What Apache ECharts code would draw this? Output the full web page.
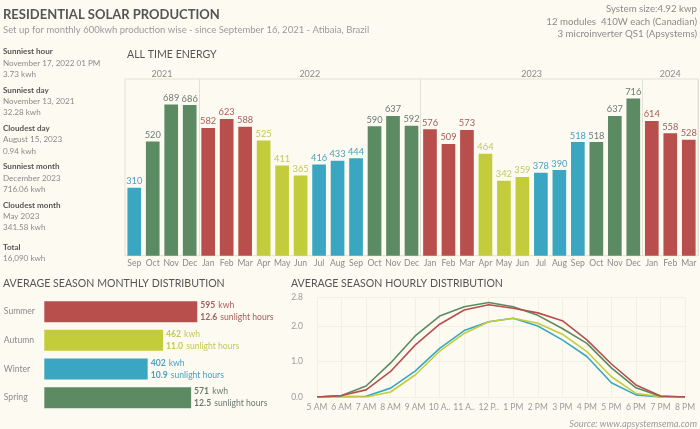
<!DOCTYPE html>
<html><head><meta charset="utf-8">
<script src="https://cdn.jsdelivr.net/npm/echarts@6/dist/echarts.min.js"></script>
<style>html,body{margin:0;padding:0;background:#fdfbf1}#c{width:700px;height:429px}</style>
</head><body><div id="c"></div>
<script>
// ---- DATA ----
const monthLabels = ['Sep','Oct','Nov','Dec',
  'Jan','Feb','Mar','Apr','May','Jun','Jul','Aug','Sep','Oct','Nov','Dec',
  'Jan','Feb','Mar','Apr','May','Jun','Jul','Aug','Sep','Oct','Nov','Dec',
  'Jan','Feb','Mar'];
const monthlyKwh = [310,520,689,686,
  582,623,588,525,411,365,416,433,444,590,637,592,
  576,509,573,464,342,359,378,390,518,518,637,716,
  614,558,528];
const yearNames = ['2021','2022','2023','2024'];
const monthsPerYear = [4,12,12,3];

const seasonNames = ['Summer','Autumn','Winter','Spring'];
const seasonKwh = [595,462,402,571];
const seasonSunHours = ['12.6','11.0','10.9','12.5'];
const seasonOfMonth = {Jan:'Summer',Feb:'Summer',Mar:'Summer',Apr:'Autumn',May:'Autumn',Jun:'Autumn',
  Jul:'Winter',Aug:'Winter',Sep:'Winter',Oct:'Spring',Nov:'Spring',Dec:'Spring'};

const hourLabels = ['5 AM','6 AM','7 AM','8 AM','9 AM','10 A..','11 A..','12 P..','1 PM','2 PM','3 PM','4 PM','5 PM','6 PM','7 PM','8 PM'];
const hourlySummer = [0,0.04,0.2,0.72,1.46,2.05,2.45,2.6,2.5,2.37,2.15,1.61,0.93,0.34,0.03,0];
const hourlyAutumn = [0,0.01,0,0.14,0.62,1.29,1.79,2.12,2.22,2.08,1.77,1.28,0.57,0.1,0.01,0];
const hourlyWinter = [0,0.01,0.02,0.25,0.73,1.37,1.87,2.12,2.22,2.0,1.61,1.14,0.4,0.06,0,0];
const hourlySpring = [0,0.04,0.31,0.96,1.72,2.28,2.54,2.66,2.54,2.3,1.93,1.51,0.82,0.26,0.02,0];

const stats = [
  ['Sunniest hour','November 17, 2022 01 PM','3.73 kwh'],
  ['Sunniest day','November 13, 2021','32.28 kwh'],
  ['Cloudest day','August 15, 2023','0.94 kwh'],
  ['Sunniest month','December 2023','716.06 kwh'],
  ['Cloudest month','May 2023','341.58 kwh'],
  ['Total','16,090 kwh']
];

// ---- STYLE ----
const FONT = 'Lato, "Open Sans", sans-serif';
const seasonColor = {Summer:'#b84f4c', Autumn:'#c3cc3a', Winter:'#3aa6c1', Spring:'#5b8a63'};
const seasonLabelColor = {Summer:'#a65c5a', Autumn:'#c2c85c', Winter:'#4aa0c0', Spring:'#6c7a6e'};

// year label positions from the group sizes
const yearCenters = [];
const yearStarts = [];
let acc = 0;
monthsPerYear.forEach(n => { yearStarts.push(acc); yearCenters.push(acc + (n - 1) / 2); acc += n; });

const barData = monthlyKwh.map((v, i) => {
  const s = seasonOfMonth[monthLabels[i]];
  return {value: v, itemStyle: {color: seasonColor[s]}, label: {color: seasonLabelColor[s]}};
});
const seasonData = seasonKwh.map((v, i) => {
  const s = seasonNames[i];
  return {value: v, hours: seasonSunHours[i], itemStyle: {color: seasonColor[s]},
    label: {rich: {b: {color: seasonLabelColor[s], fontWeight: 'bold', fontSize: 8.6, fontFamily: FONT, lineHeight: 11.7},
                   n: {color: seasonLabelColor[s], fontSize: 8.6, fontFamily: FONT, lineHeight: 11.7}}}};
});

// graphics: texts
const graphics = [];
function txt(text, x, y, size, color, opts) {
  graphics.push({type: 'text', style: Object.assign({text, x, y, font: size + 'px ' + FONT, fill: color,
    textAlign: 'left', textVerticalAlign: 'middle'}, opts || {})});
}
txt('RESIDENTIAL SOLAR PRODUCTION', 3, 15, 13, '#555555', {font: 'bold 13px ' + FONT});
txt('Set up for monthly 600kwh production wise - since September 16, 2021 - Atibaia, Brazil', 3, 30, 9.5, '#9a9a9a');
txt('System size:4.92 kwp', 697, 9, 9.7, '#8a8a8a', {textAlign: 'right'});
txt('12 modules  410W each (Canadian)', 697, 21.5, 9.7, '#8a8a8a', {textAlign: 'right'});
txt('3 microinverter QS1 (Apsystems)', 697, 34, 9.7, '#8a8a8a', {textAlign: 'right'});
txt('ALL TIME ENERGY', 127, 55, 10.6, '#555555');
txt('AVERAGE SEASON MONTHLY DISTRIBUTION', 3, 284, 10.6, '#555555');
txt('AVERAGE SEASON HOURLY DISTRIBUTION', 291, 284, 10.6, '#555555');
txt('Source: www.apsystemsema.com', 697, 424, 9.3, '#9a9a9a', {textAlign: 'right', font: 'italic 9.3px ' + FONT});
stats.forEach((g, gi) => {
  const y0 = gi < 5 ? 51.7 + gi * 38.3 : 247.3;
  g.forEach((t, li) => {
    txt(t, 3, y0 + li * 11.3, 8.1, li === 0 ? '#555555' : '#8a8a8a', li === 0 ? {font: 'bold 8.1px ' + FONT} : {});
  });
});

const option = {
  backgroundColor: '#fdfbf1',
  animation: false,
  textStyle: {fontFamily: FONT},
  grid: [
    {left: 125, right: 2, top: 79, bottom: 173.3, show: true, borderColor: '#e3e0d4', borderWidth: 1, containLabel: false},
    {left: 44.3, width: 205.7, top: 297.3, height: 114.7, containLabel: false},
    {left: 317, right: 15, top: 297.6, bottom: 32, containLabel: false}
  ],
  xAxis: [
    {type: 'category', gridIndex: 0, data: monthLabels, boundaryGap: true,
      axisLine: {show: false}, axisTick: {show: false},
      axisLabel: {color: '#8a8a8a', fontSize: 8.6, margin: 3, interval: 0},
      splitLine: {show: true, interval: (i) => yearStarts.indexOf(i) > 0, lineStyle: {color: '#e3e0d4', width: 1}}},
    {type: 'value', gridIndex: 0, position: 'top', min: -0.5, max: monthLabels.length - 0.5,
      axisLine: {show: false}, axisTick: {show: false}, splitLine: {show: false},
      axisLabel: {customValues: yearCenters, color: '#8a8a8a', fontSize: 9, margin: 0,
        formatter: (v) => { const k = yearCenters.indexOf(v); return k >= 0 ? yearNames[k] : ''; }}},
    {type: 'value', gridIndex: 1, min: 0, max: 800, show: false},
    {type: 'category', gridIndex: 2, data: hourLabels, boundaryGap: false,
      axisLine: {show: false}, axisTick: {show: false},
      axisLabel: {color: '#9a9a9a', fontSize: 8.5, margin: 6, interval: 0},
      splitLine: {show: true, lineStyle: {color: '#f2efe3', width: 1}}}
  ],
  yAxis: [
    {type: 'value', gridIndex: 0, min: 0, max: 805, show: false},
    {type: 'category', gridIndex: 1, data: seasonNames, inverse: true,
      axisLine: {show: false}, axisTick: {show: false},
      axisLabel: {color: '#8a8a8a', fontSize: 8.6, align: 'left', margin: 40.5}},
    {type: 'value', gridIndex: 2, min: 0, max: 2.8, interval: 1,
      axisLine: {show: false}, axisTick: {show: false},
      axisLabel: {color: '#9a9a9a', fontSize: 8.5, margin: 14, formatter: (v) => v.toFixed(1)},
      splitLine: {show: true, lineStyle: {color: '#f2efe3', width: 1}}}
  ],
  series: [
    {type: 'bar', xAxisIndex: 0, yAxisIndex: 0, data: barData, barWidth: '74%',
      label: {show: true, position: 'top', distance: 2, fontSize: 9.3, fontFamily: FONT}},
    {type: 'bar', xAxisIndex: 2, yAxisIndex: 1, data: seasonData, barWidth: 21,
      label: {show: true, position: 'right', distance: 3, align: 'left',
        formatter: (p) => '{b|' + p.value + '} {n|kwh}\n{b|' + p.data.hours + '} {n|sunlight hours}'}},
    {type: 'line', name: 'Winter', xAxisIndex: 3, yAxisIndex: 2, data: hourlyWinter, symbol: 'none',
      lineStyle: {color: seasonColor.Winter, width: 1.6}},
    {type: 'line', name: 'Autumn', xAxisIndex: 3, yAxisIndex: 2, data: hourlyAutumn, symbol: 'none',
      lineStyle: {color: seasonColor.Autumn, width: 1.6}},
    {type: 'line', name: 'Spring', xAxisIndex: 3, yAxisIndex: 2, data: hourlySpring, symbol: 'none',
      lineStyle: {color: seasonColor.Spring, width: 1.6}},
    {type: 'line', name: 'Summer', xAxisIndex: 3, yAxisIndex: 2, data: hourlySummer, symbol: 'none',
      lineStyle: {color: seasonColor.Summer, width: 1.6}}
  ],
  graphic: graphics
};
const chart = echarts.init(document.getElementById('c'), null, {renderer: 'canvas'});
chart.setOption(option);
</script></body></html>
